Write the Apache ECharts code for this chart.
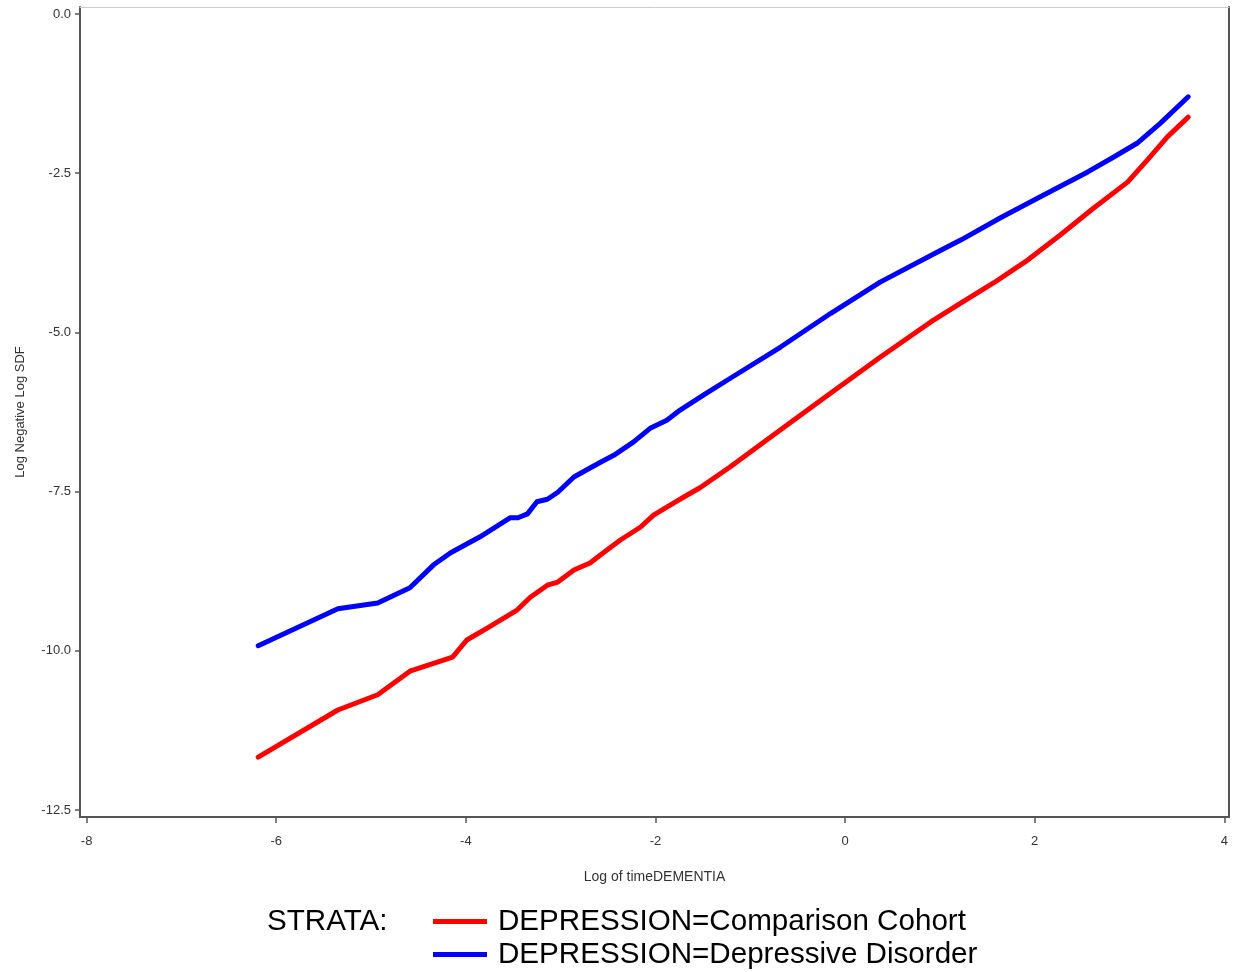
<!DOCTYPE html>
<html>
<head>
<meta charset="utf-8">
<script src="https://cdn.jsdelivr.net/npm/echarts@6/dist/echarts.min.js"></script>
<style>
html,body{margin:0;padding:0;background:#fff;}
#chart{width:1238px;height:972px;}
</style>
</head>
<body>
<div id="chart"></div>
<script>
// Log of timeDEMENTIA (x) vs Log Negative Log SDF (y)
const comparisonX = [-6.19,-5.35,-4.93,-4.59,-4.14,-3.99,-3.77,-3.46,-3.32,-3.14,-3.03,-2.86,-2.69,-2.55,-2.37,-2.16,-2.02,-1.81,-1.66,-1.53,-1.21,-0.68,-0.15,0.37,0.90,1.22,1.57,1.93,2.27,2.62,2.98,3.19,3.40,3.62];
const comparisonY = [-11.67,-10.93,-10.69,-10.32,-10.10,-9.83,-9.64,-9.36,-9.16,-8.97,-8.92,-8.73,-8.62,-8.46,-8.26,-8.06,-7.87,-7.68,-7.55,-7.44,-7.11,-6.53,-5.95,-5.39,-4.84,-4.54,-4.22,-3.86,-3.47,-3.05,-2.64,-2.29,-1.93,-1.62];
const depressiveX = [-6.19,-5.35,-4.93,-4.59,-4.34,-4.16,-3.85,-3.53,-3.45,-3.35,-3.25,-3.14,-3.03,-2.86,-2.69,-2.58,-2.44,-2.23,-2.05,-1.88,-1.74,-1.47,-1.21,-0.68,-0.15,0.37,1.01,1.22,1.64,2.06,2.56,2.83,3.08,3.33,3.62];
const depressiveY = [-9.92,-9.34,-9.25,-9.01,-8.65,-8.46,-8.21,-7.91,-7.91,-7.85,-7.66,-7.62,-7.51,-7.27,-7.13,-7.04,-6.93,-6.72,-6.50,-6.38,-6.22,-5.96,-5.72,-5.23,-4.70,-4.21,-3.71,-3.55,-3.20,-2.87,-2.48,-2.25,-2.03,-1.71,-1.30];
const xTicks = [-8,-6,-4,-2,0,2,4];
const yTicks = [0,-2.5,-5,-7.5,-10,-12.5];
const seriesNames = ['DEPRESSION=Comparison Cohort','DEPRESSION=Depressive Disorder'];

const zip = (xs, ys) => xs.map((x, i) => [x, ys[i]]);
const FONT = 'Liberation Sans, Arial, sans-serif';
const axisCol = '#555';

const chart = echarts.init(document.getElementById('chart'), null, {renderer: 'canvas'});
chart.setOption({
  animation: false,
  backgroundColor: '#fff',
  grid: {left: 80, top: 7, width: 1149, height: 810, containLabel: false},
  xAxis: [{
    type: 'value', min: -8.07, max: 4.05, position: 'bottom',
    name: 'Log of timeDEMENTIA', nameLocation: 'middle', nameGap: 53,
    nameTextStyle: {fontFamily: FONT, fontSize: 14, color: '#333'},
    axisLine: {show: true, onZero: false, lineStyle: {color: axisCol, width: 2}},
    axisTick: {show: true, inside: false, length: 6, customValues: xTicks, lineStyle: {color: axisCol, width: 1.5}},
    axisLabel: {customValues: xTicks, margin: 18, fontFamily: FONT, fontSize: 13, color: '#333', formatter: v => String(v)},
    splitLine: {show: false}
  }, {
    type: 'value', min: -8.07, max: 4.05, position: 'top',
    axisLine: {show: true, onZero: false, lineStyle: {color: '#ccc', width: 1}},
    axisTick: {show: false}, axisLabel: {show: false}, splitLine: {show: false}
  }],
  yAxis: [{
    type: 'value', min: -12.61, max: 0.11, position: 'left',
    name: 'Log Negative Log SDF', nameLocation: 'middle', nameGap: 53, nameRotate: 90,
    nameTextStyle: {fontFamily: FONT, fontSize: 13, color: '#333'},
    axisLine: {show: true, onZero: false, lineStyle: {color: axisCol, width: 2}},
    axisTick: {show: true, inside: false, length: 5, customValues: yTicks, lineStyle: {color: axisCol, width: 1.5}},
    axisLabel: {customValues: yTicks, margin: 9, fontFamily: FONT, fontSize: 13, color: '#333', formatter: v => v.toFixed(1)},
    splitLine: {show: false}
  }, {
    type: 'value', min: -12.61, max: 0.11, position: 'right',
    axisLine: {show: true, onZero: false, lineStyle: {color: axisCol, width: 2}},
    axisTick: {show: false}, axisLabel: {show: false}, splitLine: {show: false}
  }],
  legend: {
    orient: 'vertical', left: 433, top: 905, height: 67, padding: 0,
    itemWidth: 54, itemHeight: 5, itemGap: 0,
    icon: 'rect', selectedMode: false,
    textStyle: {fontFamily: FONT, fontSize: 29.6, color: '#000', lineHeight: 33, padding: [0,0,0,6]},
    data: seriesNames
  },
  graphic: [{
    type: 'text', left: 267, top: 907,
    style: {text: 'STRATA:', fontFamily: FONT, fontSize: 29.6, fill: '#000'}
  }],
  series: [{
    name: seriesNames[0], type: 'line', xAxisIndex: 0, yAxisIndex: 0,
    data: zip(comparisonX, comparisonY), showSymbol: false, symbol: 'none',
    lineStyle: {color: '#ff0000', width: 5, cap: 'round', join: 'round'}, itemStyle: {color: '#ff0000'}
  }, {
    name: seriesNames[1], type: 'line', xAxisIndex: 0, yAxisIndex: 0,
    data: zip(depressiveX, depressiveY), showSymbol: false, symbol: 'none',
    lineStyle: {color: '#0000ff', width: 5, cap: 'round', join: 'round'}, itemStyle: {color: '#0000ff'}
  }]
});
</script>
</body>
</html>
